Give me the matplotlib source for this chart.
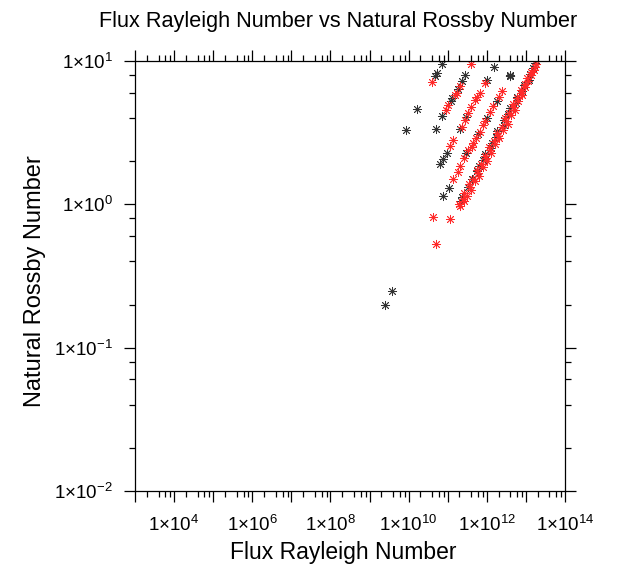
import matplotlib
matplotlib.use("Agg")
import matplotlib.pyplot as plt
import matplotlib.ticker as mticker
import numpy as np

plt.rcParams['font.family'] = ['Liberation Sans', 'DejaVu Sans']
plt.rcParams['mathtext.default'] = 'regular'

# black series (flux Rayleigh number, natural Rossby number)
ra_black = [7.0e10, 5.2e10, 4.7e10, 1.6e10, 8.6e9,
            2.85e11, 2.32e11, 1.83e11, 1.29e11, 1.19e11, 7.35e10, 4.93e10,
            1.56e12, 1.03e12, 2.94e11, 2.12e11, 9.4e10, 7.8e10, 6.35e10,
            7.7e10, 1.08e11, 3.02e11, 5.95e11, 9.9e11, 1.79e12,
            3.92e12, 3.85e12, 4.0e12, 3.95e12,
            3.8e9, 2.5e9,
            2.36e11, 3.37e11, 4.16e11, 5.61e11, 6.14e11, 7.89e11, 9.06e11,
            1.25e12, 1.34e12, 1.68e12, 1.84e12, 2.72e12, 2.77e12, 3.57e12,
            3.91e12, 5.64e12, 5.90e12, 7.94e12, 8.71e12, 1.17e13, 1.28e13,
            1.51e13, 1.71e13, 2.15e11]
ro_black = [9.6, 8.3, 7.9, 4.6, 3.3,
            8.0, 7.26, 6.34, 5.52, 5.26, 4.14, 3.34,
            9.04, 7.38, 4.07, 3.36, 2.28, 2.08, 1.90,
            1.135, 1.31, 2.29, 3.08, 4.01, 5.29,
            7.86, 7.9, 7.8, 7.95,
            0.25, 0.20,
            1.13, 1.33, 1.51, 1.70, 1.86, 2.04, 2.24,
            2.46, 2.69, 2.95, 3.24, 3.55, 3.89, 4.27,
            4.68, 5.13, 5.62, 6.17, 6.76, 7.41, 8.13,
            8.91, 9.7, 1.05]

# red series
ra_red = [3.9e10,
          4.06e11, 2.06e11, 1.68e11, 1.54e11, 1.02e11, 9.0e10,
          9.0e11, 6.7e11, 5.6e11, 4.99e11, 3.94e11, 3.36e11, 2.77e11, 2.28e11,
          1.39e11, 1.14e11,
          1.39e11, 1.80e11, 2.06e11, 2.61e11, 3.36e11, 4.1e11, 4.5e11, 5.3e11,
          6.7e11, 8.0e11, 9.0e11, 1.21e12, 1.44e12, 2.05e12, 2.49e12,
          4.1e10, 1.14e11, 5.0e10,
          2.10e11, 1.91e11, 2.64e11, 2.40e11, 3.03e11, 2.64e11, 3.99e11,
          3.63e11, 3.55e11, 4.90e11, 4.56e11, 6.44e11, 6.01e11, 5.47e11,
          7.91e11, 7.05e11, 1.04e12, 9.48e11, 8.85e11, 1.28e12, 1.19e12,
          1.11e12, 1.61e12, 1.50e12, 2.11e12, 1.93e12, 1.84e12, 2.59e12,
          2.42e12, 3.42e12, 3.18e12, 2.97e12, 4.10e12, 3.73e12, 5.15e12,
          4.70e12, 4.59e12, 6.32e12, 5.90e12, 7.78e12, 7.41e12, 7.4e12,
          9.77e12, 9.53e12, 1.15e13, 1.09e13, 1.35e13, 1.34e13, 1.58e13,
          1.69e13, 1.85e13]
ro_red = [7.1,
          9.6, 6.7, 5.99, 5.79, 4.94, 4.56,
          7.0, 6.0, 5.61, 5.35, 4.78, 4.32, 3.88, 3.49,
          2.82, 2.56,
          1.51, 1.69, 1.86, 2.11, 2.40, 2.53, 2.67, 2.91,
          3.22, 3.58, 3.82, 4.42, 4.86, 5.61, 6.21,
          0.81, 0.79, 0.53,
          0.977, 1.0, 1.047, 1.096, 1.148, 1.202, 1.259,
          1.318, 1.380, 1.445, 1.514, 1.585, 1.660, 1.738,
          1.820, 1.905, 1.995, 2.089, 2.188, 2.291, 2.399,
          2.512, 2.630, 2.754, 2.884, 3.020, 3.162, 3.311,
          3.467, 3.631, 3.802, 3.981, 4.169, 4.365, 4.571,
          4.786, 5.012, 5.248, 5.495, 5.754, 6.026, 6.310,
          6.607, 6.918, 7.244, 7.586, 7.943, 8.318, 8.710,
          9.120, 9.550]

star = (8, 2, 0)

fig = plt.figure(figsize=(6.24, 5.73), dpi=100)
ax = fig.add_axes([0.2163, 0.1431, 0.6891, 0.7504])

ax.plot(ra_black, ro_black, linestyle='none', marker=star, markersize=6.5,
        markeredgewidth=0.6, color='#333333')
ax.plot(ra_red, ro_red, linestyle='none', marker=star, markersize=6.5,
        markeredgewidth=0.6, color='#ff2a2a')

ax.set_xscale('log')
ax.set_yscale('log')
ax.set_xlim(1e3, 1e14)
ax.set_ylim(1e-2, 1e1)

def xfmt(v, pos):
    e = int(round(np.log10(v)))
    if e % 2 == 0 and e >= 4:
        return '1×10$^{%d}$' % e
    return ''

def yfmt(v, pos):
    e = int(round(np.log10(v)))
    return '1×10$^{%d}$' % e

ax.xaxis.set_major_locator(mticker.LogLocator(base=10, numticks=20))
ax.xaxis.set_minor_locator(mticker.LogLocator(base=10, subs=[2, 4, 6, 8], numticks=20))
ax.yaxis.set_major_locator(mticker.LogLocator(base=10, numticks=20))
ax.yaxis.set_minor_locator(mticker.LogLocator(base=10, subs=[2, 4, 6, 8], numticks=20))
ax.xaxis.set_major_formatter(mticker.FuncFormatter(xfmt))
ax.yaxis.set_major_formatter(mticker.FuncFormatter(yfmt))
ax.xaxis.set_minor_formatter(mticker.NullFormatter())
ax.yaxis.set_minor_formatter(mticker.NullFormatter())

ax.tick_params(which='both', direction='out', top=True, right=True, width=0.9)
ax.tick_params(which='major', length=8, labelsize=13.5)
ax.tick_params(which='minor', length=4)
ax.tick_params(axis='x', which='major', pad=9)
ax.tick_params(axis='y', which='major', pad=8)
for s in ax.spines.values():
    s.set_linewidth(0.9)

fig.text(343.5 / 624, 1 - 553 / 573, 'Flux Rayleigh Number',
         ha='center', va='center', fontsize=16.5)
fig.text(35 / 624, 1 - 281.5 / 573, 'Natural Rossby Number',
         ha='center', va='center', rotation=90, fontsize=17)
fig.text(338 / 624, 1 - 22 / 573, 'Flux Rayleigh Number vs Natural Rossby Number',
         ha='center', va='center', fontsize=15.6)

fig.savefig('out.png', dpi=100)
